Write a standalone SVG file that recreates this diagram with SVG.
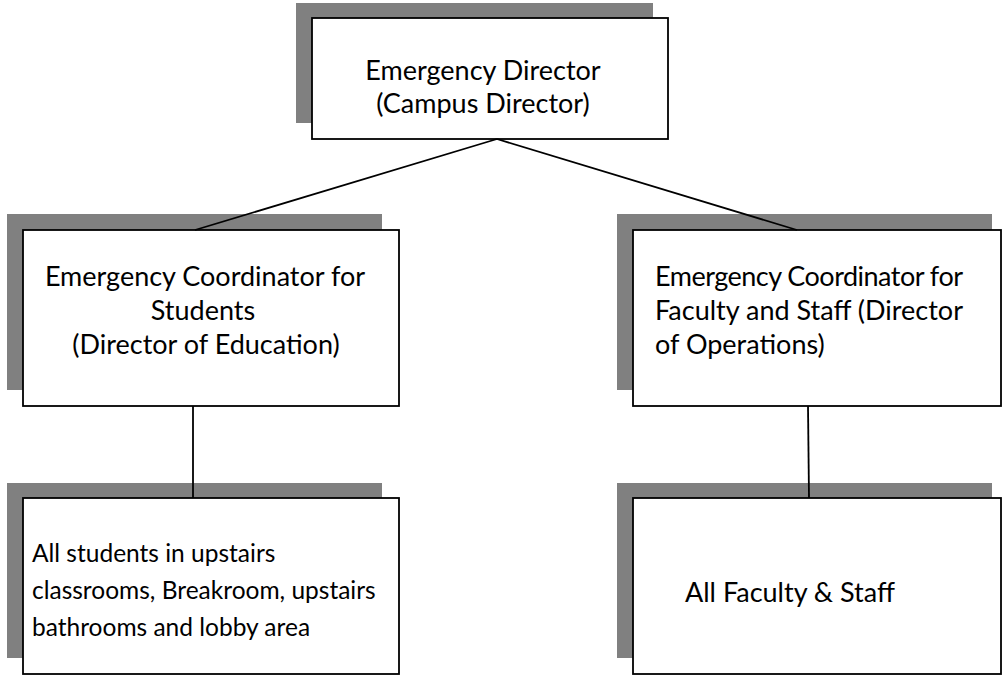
<svg xmlns="http://www.w3.org/2000/svg" width="1002" height="675" viewBox="0 0 1002 675">
<style>
.shadow{fill:#808080;stroke:none}
.box{fill:#ffffff;stroke:#000000;stroke-width:1.8}
.t{font-family:Lato,"Open Sans","Liberation Sans",sans-serif;font-size:27px;fill:#000000}
.ts{font-family:Lato,"Open Sans","Liberation Sans",sans-serif;font-size:24.5px;fill:#000000}
.c{text-anchor:middle}
.conn line{stroke:#000000;stroke-width:1.8}
</style>
<rect x="0" y="0" width="1002" height="675" fill="#ffffff"/>
<g id="director">
<rect class="shadow" x="296" y="3" width="357" height="120"/>
<rect class="box" x="312" y="18" width="356" height="121"/>
<text class="t c" x="483" y="80">Emergency Director</text>
<text class="t c" x="483" y="113">(Campus Director)</text>
</g>
<g id="coord-students">
<rect class="shadow" x="7" y="214" width="375" height="176"/>
<rect class="box" x="23" y="230" width="376" height="176"/>
<text class="t c" x="205" y="286">Emergency Coordinator for</text>
<text class="t c" x="203" y="320">Students</text>
<text class="t c" x="206" y="354">(Director of Education)</text>
</g>
<g id="coord-staff">
<rect class="shadow" x="617" y="214" width="375" height="176"/>
<rect class="box" x="633" y="230" width="368" height="176"/>
<text class="t" x="655" y="286" textLength="308" lengthAdjust="spacing">Emergency Coordinator for</text>
<text class="t" x="655" y="320" textLength="308" lengthAdjust="spacing">Faculty and Staff (Director</text>
<text class="t" x="655" y="354">of Operations)</text>
</g>
<g id="students">
<rect class="shadow" x="7" y="483" width="375" height="175"/>
<rect class="box" x="23" y="498" width="376" height="176"/>
<text class="ts" x="32" y="562">All students in upstairs</text>
<text class="ts" x="32" y="599">classrooms, Breakroom, upstairs</text>
<text class="ts" x="32" y="636">bathrooms and lobby area</text>
</g>
<g id="staff">
<rect class="shadow" x="617" y="483" width="375" height="175"/>
<rect class="box" x="633" y="498" width="368" height="176"/>
<text class="t" x="685" y="602">All Faculty &amp; Staff</text>
</g>
<g id="connectors" class="conn">
<line x1="497" y1="139" x2="195" y2="230"/>
<line x1="497" y1="139" x2="797" y2="230"/>
<line x1="193" y1="406" x2="193" y2="498"/>
<line x1="808" y1="406" x2="809" y2="498"/>
</g>
</svg>
